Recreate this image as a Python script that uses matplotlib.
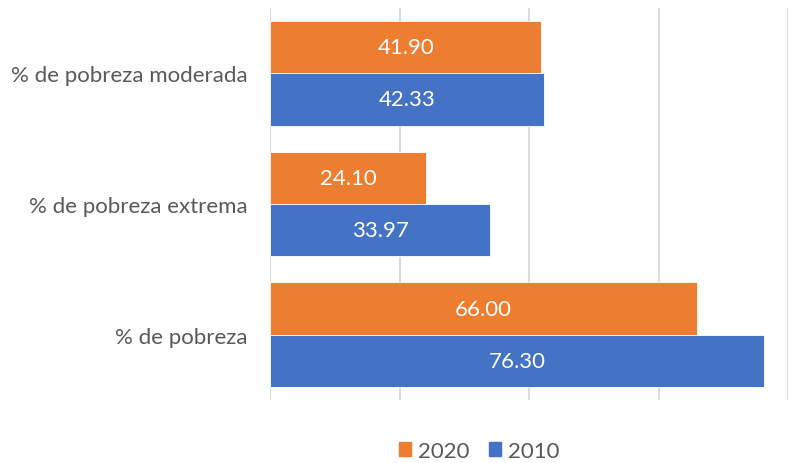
import matplotlib.pyplot as plt
import numpy as np
from matplotlib.patches import Patch

plt.rcParams['font.family'] = ['Lato', 'DejaVu Sans']

categories = ['% de pobreza', '% de pobreza extrema', '% de pobreza moderada']
vals_2020 = [66.00, 24.10, 41.90]
vals_2010 = [76.30, 33.97, 42.33]

orange = '#ED7D31'
blue = '#4472C4'
grey = '#595959'

fig = plt.figure(figsize=(7.88, 4.64), dpi=100)
ax = fig.add_axes([270 / 788, 1 - 401 / 464, 518 / 788, 392 / 464])

y = np.arange(len(categories))
h = 0.4
b20 = ax.barh(y + h / 2, vals_2020, height=h, color=orange, edgecolor='white', linewidth=0.6, zorder=3)
b10 = ax.barh(y - h / 2, vals_2010, height=h, color=blue, edgecolor='white', linewidth=0.6, zorder=3)

for bars, vals in ((b20, vals_2020), (b10, vals_2010)):
    for bar, v in zip(bars, vals):
        ax.text(bar.get_width() / 2, bar.get_y() + bar.get_height() / 2, f'{v:.2f}',
                ha='center', va='center', color='white', fontsize=16, zorder=4)

ax.set_xlim(0, 80)
ax.set_ylim(-0.5, 2.5)
ax.set_xticks([0, 20, 40, 60, 80])
ax.set_xticklabels([])
ax.xaxis.grid(True, color='#D9D9D9', linewidth=1.3, zorder=0)
ax.tick_params(axis='x', length=0)
ax.set_yticks(y)
ax.set_yticklabels(categories, fontsize=16, color=grey)
ax.tick_params(axis='y', length=0, pad=16)
for s in ax.spines.values():
    s.set_visible(False)

handles = [Patch(color=orange, label='2020'), Patch(color=blue, label='2010')]
fig.legend(handles=handles, loc='center', bbox_to_anchor=(479 / 788, 1 - 452 / 464), ncol=2,
           frameon=False, fontsize=16, labelcolor=grey, handlelength=0.55, handleheight=0.55,
           handletextpad=0.3, columnspacing=0.9)

fig.savefig('out.png', dpi=100)
